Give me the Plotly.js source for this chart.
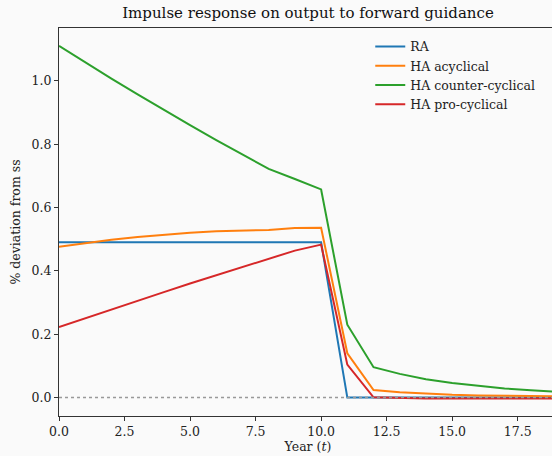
<!DOCTYPE html>
<html>
<head>
<meta charset="utf-8">
<script src="https://cdn.plot.ly/plotly-3.0.1.min.js"></script>
<style>
html,body{margin:0;padding:0;background:#fafafa;overflow:hidden;width:552px;height:456px;}
#chart{width:560px;height:456px;}
</style>
</head>
<body>
<div id="chart"></div>
<script>
const years = [0,1,2,3,4,5,6,7,8,9,10,11,12,13,14,15,16,17,18,19];
const seriesNames = ["RA","HA acyclical","HA counter-cyclical","HA pro-cyclical"];
const ra = [0.490,0.490,0.490,0.490,0.490,0.490,0.490,0.490,0.490,0.490,0.490,0,0,0,0,0,0,0,0,0];
const haAcyclical = [0.476,0.488,0.498,0.507,0.514,0.520,0.525,0.527,0.529,0.535,0.536,0.140,0.024,0.017,0.012,0.009,0.007,0.006,0.005,0.004];
const haCounter = [1.110,1.058,1.007,0.957,0.908,0.860,0.813,0.767,0.722,0.690,0.657,0.230,0.096,0.075,0.058,0.046,0.037,0.029,0.023,0.018];
const haPro = [0.223,0.251,0.279,0.306,0.333,0.360,0.386,0.412,0.437,0.464,0.483,0.104,0.001,-0.002,-0.003,-0.003,-0.003,-0.003,-0.003,-0.003];
const colors = ["#1f77b4","#ff7f0e","#2ca02c","#d62728"];
const allSeries = [ra, haAcyclical, haCounter, haPro];

const font = "DejaVu Serif";
const traces = allSeries.map((s,i)=>({
  x: years, y: s, type: "scatter", mode: "lines", name: seriesNames[i],
  line: {color: colors[i], width: 2}, legendgroup: "g"+i
}));

const layout = {
  width: 560, height: 456,
  paper_bgcolor: "#fafafa", plot_bgcolor: "#fafafa",
  margin: {l: 59, r: 3, t: 28, b: 40},
  font: {family: font, size: 12.5, color: "#222"},
  title: {text: "Impulse response on output to forward guidance", font: {family: font, size: 15, color: "#111"}, x: 0.5, xref: "paper", y: 0.972, yanchor: "middle"},
  showlegend: true,
  legend: {x: 0.625, y: 0.99, xanchor: "left", yanchor: "top", bgcolor: "rgba(0,0,0,0)", borderwidth: 0, font: {family: font, size: 12.5, color: "#222"}, traceorder: "grouped", tracegroupgap: 0},
  xaxis: {range: [0, 19], tickvals: [0,2.5,5,7.5,10,12.5,15,17.5], ticktext: ["0.0","2.5","5.0","7.5","10.0","12.5","15.0","17.5"],
    showgrid: false, zeroline: false, showline: true, linecolor: "#333", linewidth: 1, mirror: true,
    ticks: "outside", ticklen: 4, tickwidth: 1, tickcolor: "#333",
    title: {text: "Year (<i>t</i>)", font: {family: font, size: 12.5}, standoff: 4}},
  yaxis: {range: [-0.058, 1.1665], tickvals: [0,0.2,0.4,0.6,0.8,1.0], ticktext: ["0.0","0.2","0.4","0.6","0.8","1.0"],
    showgrid: false, zeroline: false, showline: true, linecolor: "#333", linewidth: 1,
    ticks: "outside", ticklen: 4, tickwidth: 1, tickcolor: "#333",
    title: {text: "% deviation from ss", font: {family: font, size: 12.5}, standoff: 8}},
  shapes: [{type: "line", xref: "paper", x0: 0, x1: 1, yref: "y", y0: 0, y1: 0, layer: "above",
    line: {color: "#999", width: 1.5, dash: "dot"}}]
};
Plotly.newPlot("chart", traces, layout, {staticPlot: true, displayModeBar: false});
</script>
</body>
</html>
